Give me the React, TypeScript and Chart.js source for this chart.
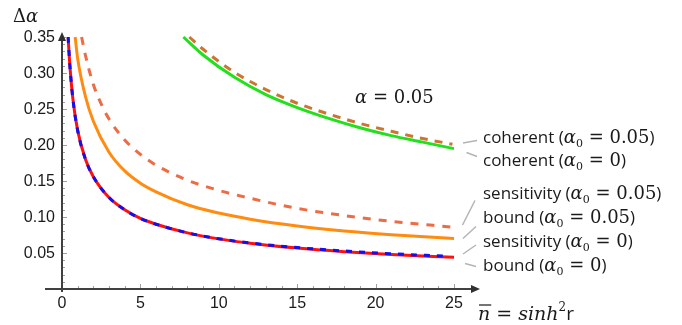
import React, { useEffect, useRef } from "react";
import { Chart, registerables } from "chart.js";

Chart.register(...registerables);

// ---- data ----
const boundA0X = [0.39, 0.5, 0.7, 1, 1.5, 2, 3, 4, 5, 6, 8, 10, 12, 15, 18, 21, 25];
const boundA0Y = [0.35, 0.311, 0.263, 0.22, 0.18, 0.156, 0.127, 0.11, 0.098, 0.09, 0.078, 0.0696, 0.0635, 0.0568, 0.0519, 0.048, 0.044];

const sensA0X = [0.39, 0.5, 0.7, 1, 1.5, 2, 3, 4, 5, 6, 8, 10, 12, 15, 18, 21, 24.3];
const sensA0Y = [0.35, 0.311, 0.263, 0.22, 0.18, 0.156, 0.127, 0.11, 0.098, 0.09, 0.078, 0.0698, 0.064, 0.0575, 0.0528, 0.049, 0.0458];

const boundA005X = [0.84, 1, 1.5, 2, 3, 4, 5, 6, 8, 10, 12, 15, 18, 21, 25];
const boundA005Y = [0.35, 0.32, 0.267, 0.233, 0.19, 0.164, 0.147, 0.135, 0.117, 0.1055, 0.097, 0.0876, 0.0807, 0.0755, 0.07];

const sensA005X = [1.25, 1.5, 2, 2.5, 3, 4, 5, 6, 8, 10, 12, 15, 18, 21, 25];
const sensA005Y = [0.35, 0.324, 0.284, 0.257, 0.236, 0.207, 0.187, 0.172, 0.151, 0.137, 0.126, 0.112, 0.102, 0.094, 0.0857];

const cohA0X = [7.74, 9, 11, 13, 15, 17, 19, 21, 23, 25];
const cohA0Y = [0.35, 0.325, 0.294, 0.27, 0.252, 0.237, 0.224, 0.213, 0.204, 0.195];

const cohA005X = [8.12, 9, 11, 13, 15, 17, 19, 21, 23, 24.9];
const cohA005Y = [0.35, 0.333, 0.301, 0.277, 0.258, 0.243, 0.23, 0.219, 0.209, 0.201];

const xTickLabels = ["0", "5", "10", "15", "20", "25"];
const yTickLabels = ["0.05", "0.10", "0.15", "0.20", "0.25", "0.30", "0.35"];

const legendRows = [
  { name: "coherent", a0: "0.05" },
  { name: "coherent", a0: "0" },
  { name: "sensitivity", a0: "0.05" },
  { name: "bound", a0: "0.05" },
  { name: "sensitivity", a0: "0" },
  { name: "bound", a0: "0" },
];

const zip = (xs: number[], ys: number[]) => xs.map((x, i) => ({ x, y: ys[i] }));

const SANS = "'Open Sans', sans-serif";
const MATH = "'DejaVu Serif', serif";

type Part = { t: string; f: string; dy?: number };
function drawParts(ctx: CanvasRenderingContext2D, x: number, y: number, parts: Part[]) {
  let cx = x;
  for (const p of parts) {
    ctx.font = p.f;
    ctx.fillText(p.t, cx, y + (p.dy || 0));
    cx += ctx.measureText(p.t).width;
  }
  return cx;
}

const decorPlugin = {
  id: "decor",
  afterDraw(chart: any) {
    const ctx: CanvasRenderingContext2D = chart.ctx;
    const xs = chart.scales.x;
    const ys = chart.scales.y;
    const x0 = xs.getPixelForValue(0);
    const y0 = ys.getPixelForValue(0);
    const yTop = ys.getPixelForValue(0.35);
    const xEnd = xs.getPixelForValue(25);
    ctx.save();

    // ticks
    ctx.strokeStyle = "#a0a0a0";
    ctx.lineWidth = 1;
    for (let i = 1; i <= 35; i++) {
      const py = Math.round(ys.getPixelForValue(i / 100)) + 0.5;
      const len = i % 5 === 0 ? 5 : 3;
      ctx.beginPath();
      ctx.moveTo(x0, py);
      ctx.lineTo(x0 + len, py);
      ctx.stroke();
    }
    for (let i = 1; i <= 25; i++) {
      const px = Math.round(xs.getPixelForValue(i)) + 0.5;
      const len = i % 5 === 0 ? 5 : 3;
      ctx.beginPath();
      ctx.moveTo(px, y0);
      ctx.lineTo(px, y0 - len);
      ctx.stroke();
    }

    // axes
    ctx.strokeStyle = "#404040";
    ctx.fillStyle = "#303030";
    ctx.lineWidth = 2;
    ctx.beginPath();
    ctx.moveTo(45, y0);
    ctx.lineTo(xEnd + 18, y0);
    ctx.stroke();
    ctx.beginPath();
    ctx.moveTo(x0, y0 + 3);
    ctx.lineTo(x0, yTop + 2);
    ctx.stroke();
    // arrowheads
    ctx.beginPath();
    ctx.moveTo(xEnd + 26, y0);
    ctx.lineTo(xEnd + 17, y0 - 4);
    ctx.lineTo(xEnd + 17, y0 + 4);
    ctx.closePath();
    ctx.fill();
    ctx.beginPath();
    ctx.moveTo(x0, yTop - 5);
    ctx.lineTo(x0 - 4, yTop + 4);
    ctx.lineTo(x0 + 4, yTop + 4);
    ctx.closePath();
    ctx.fill();

    // tick labels
    ctx.fillStyle = "#1a1a1a";
    ctx.font = "16px 'Liberation Sans', Arial, sans-serif";
    ctx.textAlign = "right";
    ctx.textBaseline = "middle";
    yTickLabels.forEach((lab) => {
      ctx.fillText(lab, 55, ys.getPixelForValue(parseFloat(lab)) + 1);
    });
    ctx.textAlign = "center";
    xTickLabels.forEach((lab) => {
      ctx.fillText(lab, xs.getPixelForValue(parseFloat(lab)), 304);
    });

    // axis titles
    ctx.textAlign = "left";
    ctx.textBaseline = "alphabetic";
    drawParts(ctx, 13, 22, [
      { t: "Δ", f: `18px ${MATH}` },
      { t: "α", f: `italic 18px ${MATH}` },
    ]);
    // x label: n̄ = sinh²r
    ctx.font = `italic 19px ${MATH}`;
    const nx = 478;
    const nb = 320;
    ctx.fillText("n", nx, nb);
    const nw = ctx.measureText("n").width;
    ctx.strokeStyle = "#1a1a1a";
    ctx.lineWidth = 1.2;
    ctx.beginPath();
    ctx.moveTo(nx + 1, nb - 15);
    ctx.lineTo(nx + nw + 1, nb - 15);
    ctx.stroke();
    drawParts(ctx, nx + nw, nb, [
      { t: " = ", f: `19px ${MATH}` },
      { t: "sinh", f: `italic 19px ${MATH}` },
      { t: "2", f: `12px ${MATH}`, dy: -9 },
      { t: "r", f: `19px ${SANS}` },
    ]);

    // alpha annotation
    drawParts(ctx, 355, 103, [
      { t: "α", f: `italic 18px ${MATH}` },
      { t: " = 0.05", f: `18px ${MATH}` },
    ]);

    // leader lines
    ctx.strokeStyle = "#b4b4b4";
    ctx.lineWidth = 1.5;
    const leaders = [
      [463, 143, 477, 140.5],
      [466.5, 152.5, 477, 156.5],
      [462.5, 225, 475, 200.5],
      [463, 238.5, 476, 226.5],
      [463, 254, 476, 245],
      [465, 263.5, 476, 266.5],
    ];
    leaders.forEach(([a, b, c, d]) => {
      ctx.beginPath();
      ctx.moveTo(a, b);
      ctx.lineTo(c, d);
      ctx.stroke();
    });

    // legend texts
    const baselines = [142.5, 165.5, 199, 223, 247, 271];
    ctx.fillStyle = "#1a1a1a";
    legendRows.forEach((r, i) => {
      drawParts(ctx, 483, baselines[i], [
        { t: r.name + " (", f: `17px ${SANS}` },
        { t: "α", f: `italic 18px ${MATH}` },
        { t: "0", f: `11px ${MATH}`, dy: 4 },
        { t: " = " + r.a0, f: `18px ${MATH}` },
        { t: ")", f: `17px ${SANS}` },
      ]);
    });
    ctx.restore();
  },
};

export default function App() {
  const ref = useRef<HTMLCanvasElement | null>(null);
  useEffect(() => {
    if (!ref.current) return;
    const common = {
      pointRadius: 0,
      borderWidth: 3,
      fill: false,
      cubicInterpolationMode: "monotone" as const,
      clip: 4,
    };
    const chart = new Chart(ref.current, {
      type: "line",
      data: {
        datasets: [
          { ...common, data: zip(sensA0X, sensA0Y), borderColor: "#1010f0", borderDash: [6, 7] },
          { ...common, data: zip(boundA0X, boundA0Y), borderColor: "#ff1010" },
          { ...common, data: zip(sensA005X, sensA005Y), borderColor: "#ec6c44", borderDash: [8, 8] },
          { ...common, data: zip(boundA005X, boundA005Y), borderColor: "#ff8c10" },
          { ...common, data: zip(cohA005X, cohA005Y), borderColor: "#cc7530", borderDash: [8, 7] },
          { ...common, data: zip(cohA0X, cohA0Y), borderColor: "#22e01e" },
        ],
      },
      options: {
        responsive: false,
        devicePixelRatio: 1,
        animation: false,
        layout: { padding: { left: 62, right: 228, top: 37, bottom: 36 } },
        scales: {
          x: { type: "linear", min: 0, max: 25, display: false },
          y: { type: "linear", min: 0, max: 0.35, display: false },
        },
        plugins: { legend: { display: false }, tooltip: { enabled: false } },
      },
      plugins: [decorPlugin],
    });
    return () => chart.destroy();
  }, []);
  return (
    <div style={{ position: "absolute", left: 0, top: 0, width: 682, height: 325, background: "#fff" }}>
      <canvas ref={ref} width={682} height={325} style={{ display: "block" }} />
    </div>
  );
}
